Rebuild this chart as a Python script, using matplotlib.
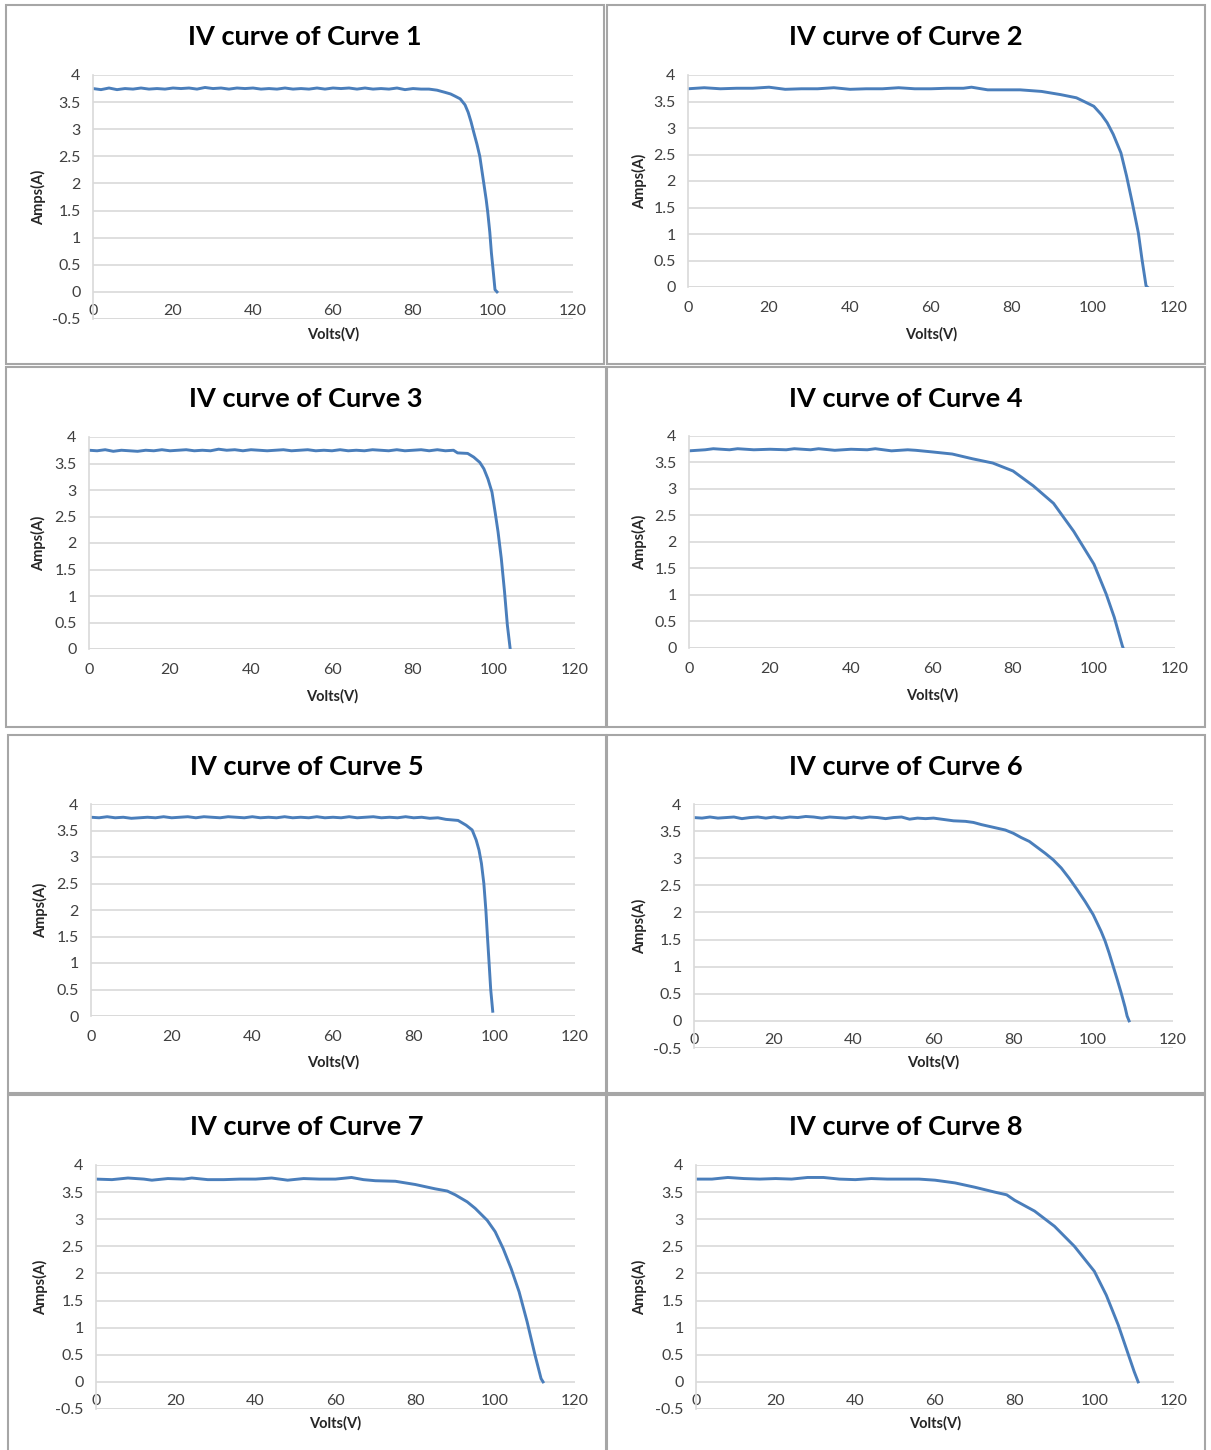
import matplotlib
matplotlib.use("Agg")
import matplotlib.pyplot as plt
from matplotlib.patches import Rectangle

plt.rcParams['font.family'] = ['Lato', 'DejaVu Sans']

# ---- data (volts, amps) ----
v1 = list(range(0, 86, 2)) + [86, 88, 89.4, 90.5, 91.8, 93, 93.8, 94.5, 95.2, 96, 96.7, 97.3,
                              97.8, 98.3, 98.7, 99.2, 99.6, 100.1, 100.5, 101]
i1 = [3.75, 3.73, 3.76, 3.73, 3.75, 3.74, 3.76, 3.74, 3.75, 3.74, 3.76, 3.75, 3.76, 3.74, 3.77,
      3.75, 3.76, 3.74, 3.76, 3.75, 3.76, 3.74, 3.75, 3.74, 3.76, 3.74, 3.75, 3.74, 3.76, 3.74,
      3.76, 3.75, 3.76, 3.74, 3.76, 3.74, 3.75, 3.74, 3.76, 3.73, 3.75, 3.74, 3.74,
      3.72, 3.68, 3.65, 3.61, 3.56, 3.45, 3.31, 3.14, 2.94, 2.72, 2.5, 2.2,
      1.95, 1.7, 1.46, 1.1, 0.72, 0.35, 0.04, 0.0]

v2 = [0, 4, 8, 12, 16, 20, 24, 28, 32, 36, 40, 44, 48, 52, 56, 60, 64, 68, 70, 74, 78, 82,
      87.3, 92, 95.9, 97.8, 100.2, 102.1, 103.5, 105, 106.9, 108.3, 109.7, 111.2, 112.1, 113.1, 113.4]
i2 = [3.74, 3.76, 3.74, 3.75, 3.75, 3.77, 3.73, 3.74, 3.74, 3.76, 3.73, 3.74, 3.74, 3.76, 3.74,
      3.74, 3.75, 3.75, 3.77, 3.72, 3.72, 3.72,
      3.69, 3.63, 3.57, 3.5, 3.41, 3.25, 3.1, 2.88, 2.53, 2.09, 1.59, 1.02, 0.52, 0.02, 0.0]

v3 = list(range(0, 91, 2)) + [91, 93.5, 95, 96.5, 97.5, 98.5, 99.5, 100.3, 101, 101.8, 102.6, 103.3, 104]
i3 = [3.75, 3.74, 3.76, 3.73, 3.75, 3.74, 3.73, 3.75, 3.74, 3.76, 3.74, 3.75, 3.76, 3.74, 3.75,
      3.74, 3.77, 3.75, 3.76, 3.74, 3.76, 3.75, 3.74, 3.75, 3.76, 3.74, 3.75, 3.76, 3.74, 3.75,
      3.74, 3.76, 3.74, 3.75, 3.74, 3.76, 3.75, 3.74, 3.76, 3.74, 3.75, 3.76, 3.74, 3.76, 3.74, 3.75,
      3.70, 3.69, 3.62, 3.52, 3.4, 3.21, 2.96, 2.57, 2.21, 1.71, 1.08, 0.45, 0.0]

v4 = [0, 4, 6, 10, 12, 16, 20, 24, 26, 30, 32, 36, 40, 44, 46, 50, 54, 56,
      60, 65, 70, 75, 80, 85, 90, 95, 100, 103, 105, 107, 107.2]
i4 = [3.72, 3.74, 3.76, 3.74, 3.76, 3.74, 3.75, 3.74, 3.76, 3.74, 3.76, 3.73, 3.75, 3.74, 3.76,
      3.72, 3.74, 3.73,
      3.70, 3.66, 3.57, 3.49, 3.34, 3.06, 2.73, 2.2, 1.58, 1.02, 0.58, 0.04, 0.0]

v5 = list(range(0, 87, 2)) + [88, 91, 93, 94.5, 95.5, 96.2, 96.8, 97.4, 97.9, 98.3, 98.7, 99.1, 99.6]
i5 = [3.75, 3.74, 3.76, 3.74, 3.75, 3.73, 3.74, 3.75, 3.74, 3.76, 3.74, 3.75, 3.76, 3.74, 3.76,
      3.75, 3.74, 3.76, 3.75, 3.74, 3.76, 3.74, 3.75, 3.74, 3.76, 3.74, 3.75, 3.74, 3.76, 3.74,
      3.75, 3.74, 3.76, 3.74, 3.75, 3.76, 3.74, 3.75, 3.74, 3.76, 3.74, 3.75, 3.73, 3.74,
      3.71, 3.69, 3.6, 3.51, 3.32, 3.13, 2.88, 2.5, 2.0, 1.49, 1.0, 0.5, 0.09]

v6 = list(range(0, 61, 2)) + [62, 65, 68, 70, 72, 75, 78, 80, 82, 84, 86, 88, 90, 92, 94, 96, 98,
                              100, 102, 103, 104, 105, 106, 107, 108, 108.5, 109]
i6 = [3.75, 3.74, 3.76, 3.74, 3.75, 3.76, 3.73, 3.75, 3.76, 3.74, 3.76, 3.74, 3.76, 3.75, 3.77,
      3.76, 3.74, 3.76, 3.75, 3.74, 3.76, 3.74, 3.76, 3.75, 3.73, 3.75, 3.76, 3.72, 3.74, 3.73, 3.74,
      3.72, 3.69, 3.68, 3.66, 3.62, 3.57, 3.52, 3.46, 3.38, 3.31, 3.2, 3.09, 2.97, 2.82, 2.63, 2.42,
      2.2, 1.96, 1.65, 1.47, 1.25, 1.01, 0.77, 0.52, 0.25, 0.09, 0.0]

v7 = [0, 4, 8, 12, 14, 18, 22, 24, 28, 32, 36, 40, 44, 48, 52, 56, 60, 64,
      67, 70, 75, 80, 85, 88, 90, 93, 95, 98, 100, 102, 104, 106, 108, 110, 111.5, 112]
i7 = [3.74, 3.73, 3.76, 3.74, 3.72, 3.75, 3.74, 3.76, 3.73, 3.73, 3.74, 3.74, 3.76, 3.72, 3.75,
      3.74, 3.74, 3.77,
      3.73, 3.71, 3.7, 3.64, 3.56, 3.52, 3.45, 3.32, 3.2, 2.98, 2.77, 2.46, 2.09, 1.66, 1.11, 0.49,
      0.06, 0.0]

v8 = [0, 4, 8, 12, 16, 20, 24, 28, 32, 36, 40, 44, 48, 52, 56,
      60, 65, 70, 75, 78, 80, 85, 90, 95, 100, 103, 106, 108, 110, 111]
i8 = [3.74, 3.74, 3.77, 3.75, 3.74, 3.75, 3.74, 3.77, 3.77, 3.74, 3.73, 3.75, 3.74, 3.74, 3.74,
      3.72, 3.67, 3.59, 3.5, 3.45, 3.35, 3.15, 2.87, 2.5, 2.04, 1.6, 1.05, 0.62, 0.19, 0.0]

curves = [(v1, i1), (v2, i2), (v3, i3), (v4, i4), (v5, i5), (v6, i6), (v7, i7), (v8, i8)]
titles = ["IV curve of Curve %d" % n for n in range(1, 9)]
y_min = [-0.5, 0, 0, 0, 0, -0.5, -0.5, -0.5]
x_ticks = [0, 20, 40, 60, 80, 100, 120]

# ---- layout in pixels ----
W, H = 1211, 1450
boxes = [(6, 5, 604, 364), (607, 5, 1205, 364),
         (6, 367, 606, 727), (607, 367, 1205, 727),
         (8, 735, 606, 1093), (607, 735, 1205, 1093),
         (8, 1095, 606, 1452), (607, 1095, 1205, 1452)]
axes_px = [(93, 75, 573, 319), (688, 75, 1174, 287),
           (89, 437, 575, 649), (689, 436, 1175, 648),
           (91, 804, 575, 1016), (694, 804, 1173, 1048),
           (96, 1165, 575, 1409), (696, 1165, 1174, 1409)]
title_y = [37, 37, 399, 399, 767, 767, 1127, 1127]
xlab_y = [334, 334, 696, 695, 1062, 1062, 1423, 1423]

blue = "#4A7EBB"
grid = "#D9D9D9"
txt = "#404040"

fig = plt.figure(figsize=(W / 100, H / 100), dpi=100)


def fx(x):
    return x / W


def fy(y):
    return 1 - y / H


for k in range(8):
    bl, bt, br, bb = boxes[k]
    fig.patches.append(Rectangle((fx(bl), fy(bb)), (br - bl) / W, (bb - bt) / H,
                                 transform=fig.transFigure, fill=False,
                                 edgecolor="#A6A6A6", linewidth=1.5))

    l, t, r, b = axes_px[k]
    ax = fig.add_axes([fx(l), fy(b), (r - l) / W, (b - t) / H])
    v, a = curves[k]
    ax.plot(v, a, color=blue, linewidth=2.1, solid_joinstyle="round")
    ax.set_xlim(0, 120)
    ax.set_ylim(y_min[k], 4)
    ax.set_xticks(x_ticks)
    yt = [y_min[k] + 0.5 * j for j in range(int((4 - y_min[k]) / 0.5) + 1)]
    ax.set_yticks(yt)
    ax.set_yticklabels(["%g" % y for y in yt])
    ax.grid(axis="y", color=grid, linewidth=1.2)
    ax.set_axisbelow(True)
    for s in ["top", "right", "bottom"]:
        ax.spines[s].set_visible(False)
    ax.spines["left"].set_color(grid)
    ax.spines["left"].set_linewidth(1.2)
    if y_min[k] < 0:
        ax.axhline(y_min[k], color=grid, linewidth=1.2, zorder=0)
        xpad = -11
    else:
        ax.axhline(0, color=grid, linewidth=1.2, zorder=0)
        xpad = 10
    ax.tick_params(axis="x", length=0, pad=xpad, labelsize=11.5, labelcolor=txt)
    ax.tick_params(axis="y", length=0, pad=9, labelsize=11.5, labelcolor=txt)

    cx = (br + bl) / 2
    fig.text(fx(cx), fy(title_y[k]), titles[k], ha="center", va="center",
             fontsize=19.5, fontweight="bold", color="black")
    fig.text(fx((l + r) / 2), fy(xlab_y[k]), "Volts(V)", ha="center", va="center",
             fontsize=10.5, fontweight="bold", color="#262626")
    fig.text(fx(bl + 33), fy((t + b) / 2), "Amps(A)", ha="center", va="center",
             rotation=90, fontsize=10.5, fontweight="bold", color="#262626")

fig.savefig("out.png", dpi=100, facecolor="white")
